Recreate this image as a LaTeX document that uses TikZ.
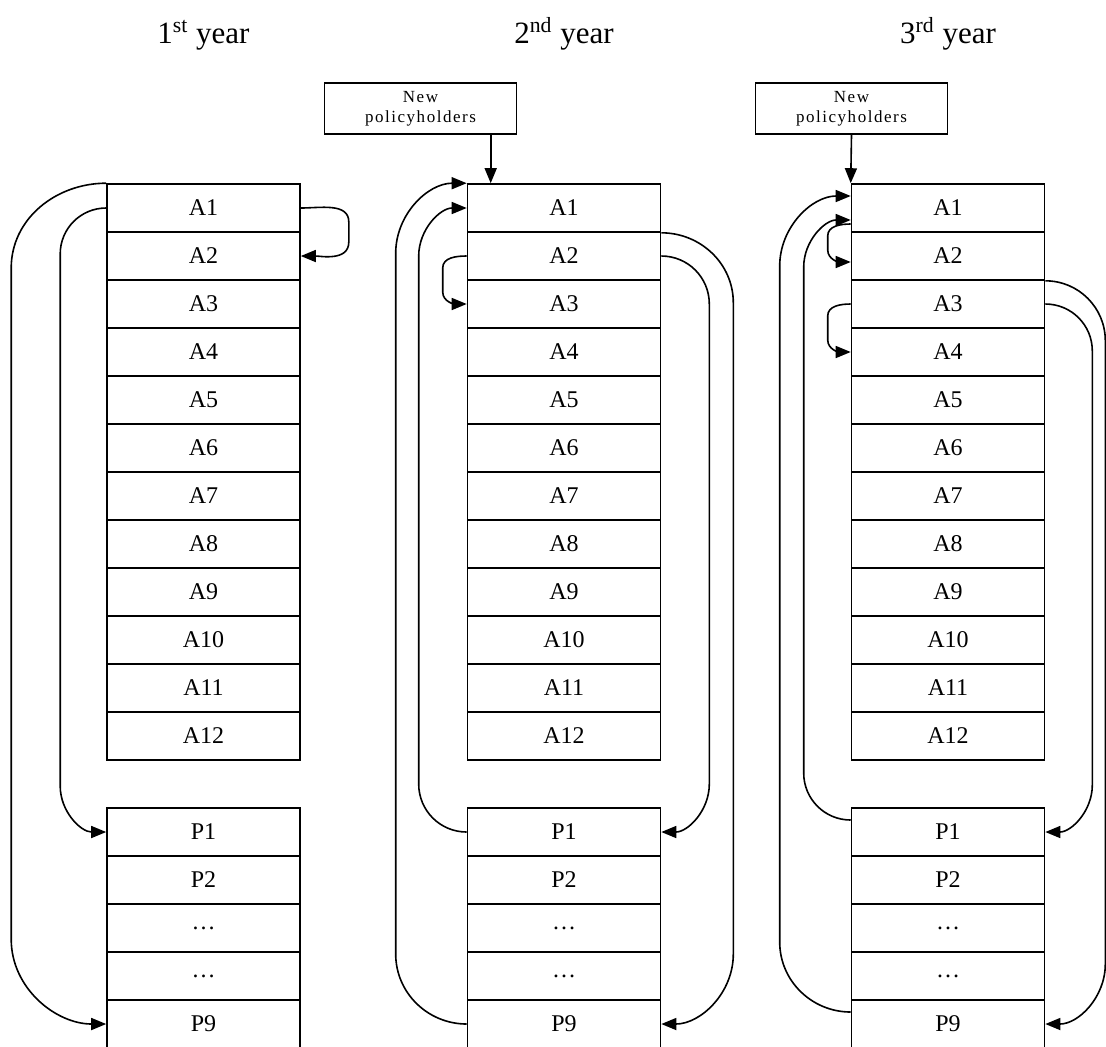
\documentclass[tikz,border=0pt]{standalone}
\usepackage{fontspec}
\setmainfont{Liberation Serif}
\usetikzlibrary{arrows.meta,calc}

\tikzset{
  cell/.style={draw, line width=0.8pt, minimum width=96.5pt, minimum height=24pt,
    inner sep=0pt, font=\fontsize{12}{14}\selectfont},
  newbox/.style={draw, line width=0.8pt, minimum width=96pt, minimum height=25.5pt,
    inner sep=1pt, align=center,
    font=\fontsize{8.5}{10}\selectfont\addfontfeatures{LetterSpace=9}},
  yeartitle/.style={anchor=base, font=\fontsize{15.5}{18}\selectfont},
  flow/.style={line width=0.8pt, >={Triangle[length=7.5pt,width=6pt]}}
}

% tips, upper point, lower point, side angle, dx, dy
\newcommand{\sidebend}[6]{%
  \draw[flow,#1] (#2) to[out=#4,in=90] ++(#5,-#6) coordinate (bendtop)
    -- ($(bendtop |- #3)+(0,#6)$) to[out=-90,in=#4] (#3);}

\begin{document}
\begin{tikzpicture}[x=0.5pt,y=0.5pt]
\useasboundingbox (0,0) rectangle (1106,-1046);

\foreach \col/\cx/\suf in {1/203.5/st, 2/564/nd, 3/948/rd} {
  \node[yeartitle] (title\col) at (\cx,-43) {\col\textsuperscript{\suf} year};
  \foreach \k in {1,...,12}
    \node[cell] (c\col a\k) at (\cx,{-208-48*(\k-1)}) {A\k};
  \foreach \k/\lab/\row in {1/P1/0, 2/P2/1, d1/\ldots/2, d2/\ldots/3, 9/P9/4}
    \node[cell] (c\col p\k) at (\cx,{-832-48*\row}) {\lab};
}

\node[newbox] (new2) at (420.5,-108.5) {New\\policyholders};
\node[newbox] (new3) at (851.5,-108.5) {New\\policyholders};

\coordinate (c2in) at ($(c2a1.north west)+(24,0)$);
\draw[flow,->] (new2.south -| c2in) -- (c2in);
\draw[flow,->] (new3.south) -- (c3a1.north west);

% 1st year
\sidebend{->}{c1a1.north west}{c1p9.west}{180}{-95}{85}
\sidebend{->}{c1a1.west}{c1p1.west}{180}{-46}{46}
\sidebend{->}{c1a1.east}{c1a2.east}{0}{48}{14}

% 2nd year
\sidebend{<-}{c2a1.north west}{c2p9.west}{180}{-71}{70}
\sidebend{<-}{c2a1.west}{c2p1.west}{180}{-48}{48}
\sidebend{->}{c2a2.west}{c2a3.west}{180}{-24}{12}
\sidebend{->}{c2a1.south east}{c2p9.east}{0}{72}{70}
\sidebend{->}{c2a2.east}{c2p1.east}{0}{48}{48}

% 3rd year
\coordinate (c3a1hi) at ($(c3a1.west)+(0,12)$);
\coordinate (c3a1lo) at ($(c3a1.west)+(0,-12)$);
\coordinate (c3a1st) at ($(c3a1.west)+(0,-16)$);
\coordinate (c3a2in) at ($(c3a2.west)+(0,-6)$);
\coordinate (c3p1hi) at ($(c3p1.west)+(0,12)$);
\coordinate (c3p9hi) at ($(c3p9.west)+(0,12)$);
\sidebend{<-}{c3a1hi}{c3p9hi}{180}{-71}{70}
\sidebend{<-}{c3a1lo}{c3p1hi}{180}{-47}{47}
\sidebend{->}{c3a1st}{c3a2in}{180}{-23}{12}
\sidebend{->}{c3a3.west}{c3a4.west}{180}{-23}{12}
\sidebend{->}{c3a2.south east}{c3p9.east}{0}{60}{60}
\sidebend{->}{c3a3.east}{c3p1.east}{0}{47}{47}
\end{tikzpicture}
\end{document}
